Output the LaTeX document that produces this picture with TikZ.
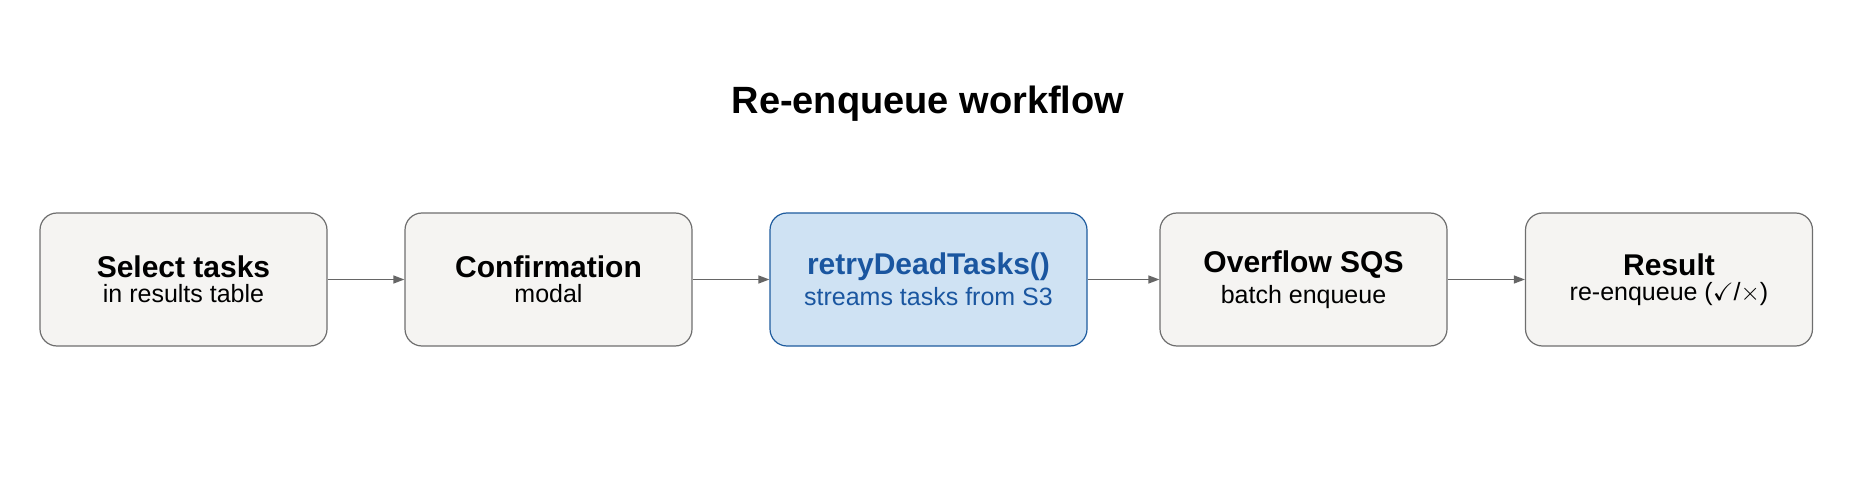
\documentclass[tikz,border=0pt]{standalone}
\usepackage{fontspec}
\setmainfont{Liberation Sans}
\usetikzlibrary{arrows.meta}
\usepackage{amssymb}
\definecolor{boxfill}{HTML}{F5F4F2}
\definecolor{boxdraw}{HTML}{6E6E6E}
\definecolor{bluefill}{HTML}{CFE2F3}
\definecolor{bluedraw}{HTML}{1F5C9E}
\definecolor{bluetext}{HTML}{1A56A0}
\definecolor{arr}{HTML}{666666}
\begin{document}
\begin{tikzpicture}[x=1pt,y=-1pt,
  box/.style={draw=boxdraw,fill=boxfill,line width=1.2pt,rounded corners=17pt,minimum width=287pt,minimum height=133pt,align=center,inner sep=0pt},
  hl/.style={box,draw=bluedraw,fill=bluefill,text=bluetext,minimum width=317pt},
  t/.style={font=\fontsize{30}{34}\selectfont\bfseries},
  s/.style={font=\fontsize{25}{30}\selectfont},
  link/.style={draw=arr,line width=1.2pt,-{Triangle[length=11pt,width=8pt]}}]
\useasboundingbox (0,0) rectangle (1858,486);
\node[font=\fontsize{38}{44}\selectfont\bfseries] (title) at (928,104) {Re-enqueue workflow};
\node[box] (a) at (183.5,279.5) {{\fontsize{30}{34}\selectfont\bfseries Select tasks}\\[6pt]{\fontsize{25}{30}\selectfont in results table}};
\node[box] (b) at (548.5,279.5) {{\fontsize{30}{34}\selectfont\bfseries Confirmation}\\[6pt]{\fontsize{25}{30}\selectfont modal}};
\node[hl] (c) at (928.5,279.5) {{\fontsize{30}{34}\selectfont\bfseries retryDeadTasks()}\\[6pt]{\fontsize{25}{30}\selectfont streams tasks from S3}};
\node[box] (d) at (1303.5,279.5) {{\fontsize{30}{34}\selectfont\bfseries Overflow SQS}\\[6pt]{\fontsize{25}{30}\selectfont batch enqueue}};
\node[box] (e) at (1669,279.5) {{\fontsize{30}{34}\selectfont\bfseries Result}\\[6pt]{\fontsize{25}{30}\selectfont re-enqueue ($\checkmark$/$\times$)}};
\draw[link] (a) -- (b);
\draw[link] (b) -- (c);
\draw[link] (c) -- (d);
\draw[link] (d) -- (e);
\end{tikzpicture}
\end{document}
